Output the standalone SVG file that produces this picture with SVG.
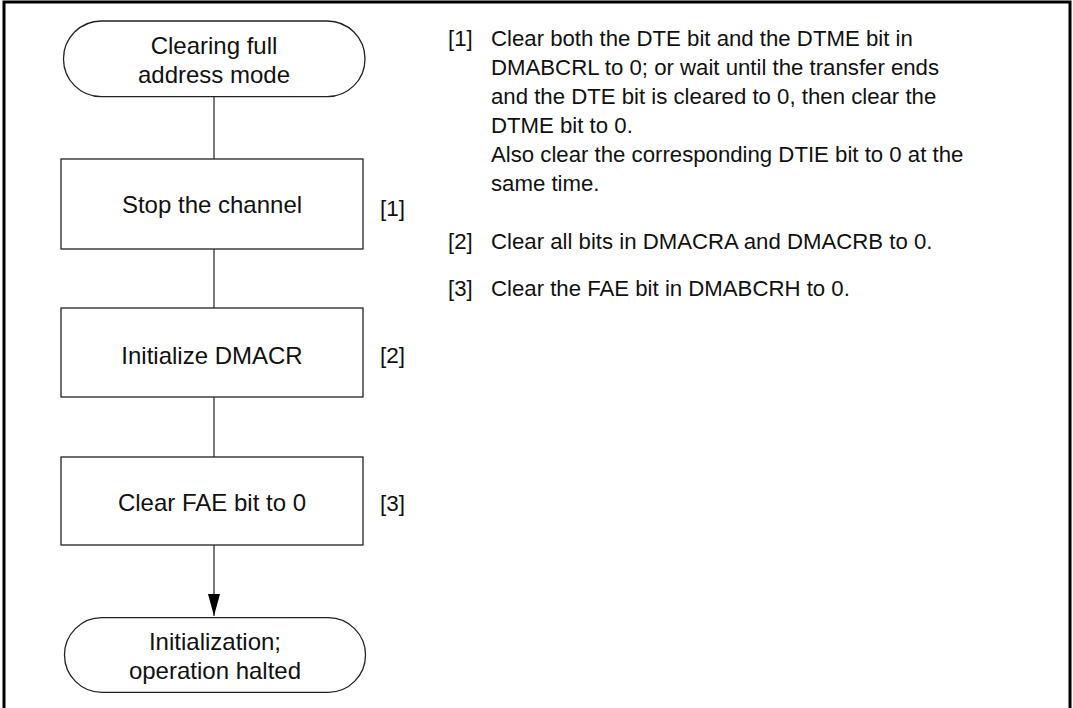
<svg xmlns="http://www.w3.org/2000/svg" width="1073" height="708" viewBox="0 0 1073 708">
<style>
.frame{fill:none;stroke:#000;stroke-width:3}
.shape{fill:#fff;stroke:#222;stroke-width:1.3}
.conn{fill:none;stroke:#222;stroke-width:1.2}
.ft{font-family:"Liberation Sans",Arial,sans-serif;font-size:24px;fill:#111;text-anchor:middle}
.lb{font-family:"Liberation Sans",Arial,sans-serif;font-size:22.5px;fill:#111}
.ds{font-family:"Liberation Sans",Arial,sans-serif;font-size:22.2px;fill:#111}
</style>
<defs>
<marker id="arr" viewBox="0 0 22 12" refX="22" refY="6" markerWidth="22" markerHeight="12" markerUnits="userSpaceOnUse" orient="auto">
<path d="M0,0 L22,6 L0,12 Z" fill="#000"/>
</marker>
</defs>
<rect width="1073" height="708" fill="#fff"/>
<rect class="frame" x="4" y="2" width="1066" height="730"/>
<g id="connectors">
<line class="conn" x1="214" y1="96.7" x2="214" y2="159"/>
<line class="conn" x1="214" y1="249" x2="214" y2="308"/>
<line class="conn" x1="214" y1="397" x2="214" y2="457"/>
<line class="conn" x1="214" y1="545" x2="214" y2="616" marker-end="url(#arr)"/>
</g>
<g id="start">
<rect class="shape" x="63.5" y="21" width="301.5" height="75.7" rx="37.8" ry="37.8"/>
<text class="ft" x="214" y="53.5">Clearing full</text>
<text class="ft" x="214" y="83">address mode</text>
</g>
<g id="step1">
<rect class="shape" x="61" y="159" width="302" height="90"/>
<text class="ft" x="212" y="213">Stop the channel</text>
<text class="lb" x="380" y="216">[1]</text>
</g>
<g id="step2">
<rect class="shape" x="61" y="308" width="302" height="89"/>
<text class="ft" x="212" y="364">Initialize DMACR</text>
<text class="lb" x="380" y="363">[2]</text>
</g>
<g id="step3">
<rect class="shape" x="61" y="457" width="302" height="88"/>
<text class="ft" x="212" y="511">Clear FAE bit to 0</text>
<text class="lb" x="380" y="511">[3]</text>
</g>
<g id="end">
<rect class="shape" x="64.5" y="617.7" width="301" height="74.6" rx="37.3" ry="37.3"/>
<text class="ft" x="215" y="650">Initialization;</text>
<text class="ft" x="215" y="678.5">operation halted</text>
</g>
<g id="notes">
<text class="ds" x="448" y="46">[1]</text>
<text class="ds" x="491" y="46">Clear both the DTE bit and the DTME bit in</text>
<text class="ds" x="491" y="75">DMABCRL to 0; or wait until the transfer ends</text>
<text class="ds" x="491" y="104">and the DTE bit is cleared to 0, then clear the</text>
<text class="ds" x="491" y="133">DTME bit to 0.</text>
<text class="ds" x="491" y="162">Also clear the corresponding DTIE bit to 0 at the</text>
<text class="ds" x="491" y="191">same time.</text>
<text class="ds" x="448" y="249">[2]</text>
<text class="ds" x="491" y="249">Clear all bits in DMACRA and DMACRB to 0.</text>
<text class="ds" x="448" y="296">[3]</text>
<text class="ds" x="491" y="296">Clear the FAE bit in DMABCRH to 0.</text>
</g>
</svg>
